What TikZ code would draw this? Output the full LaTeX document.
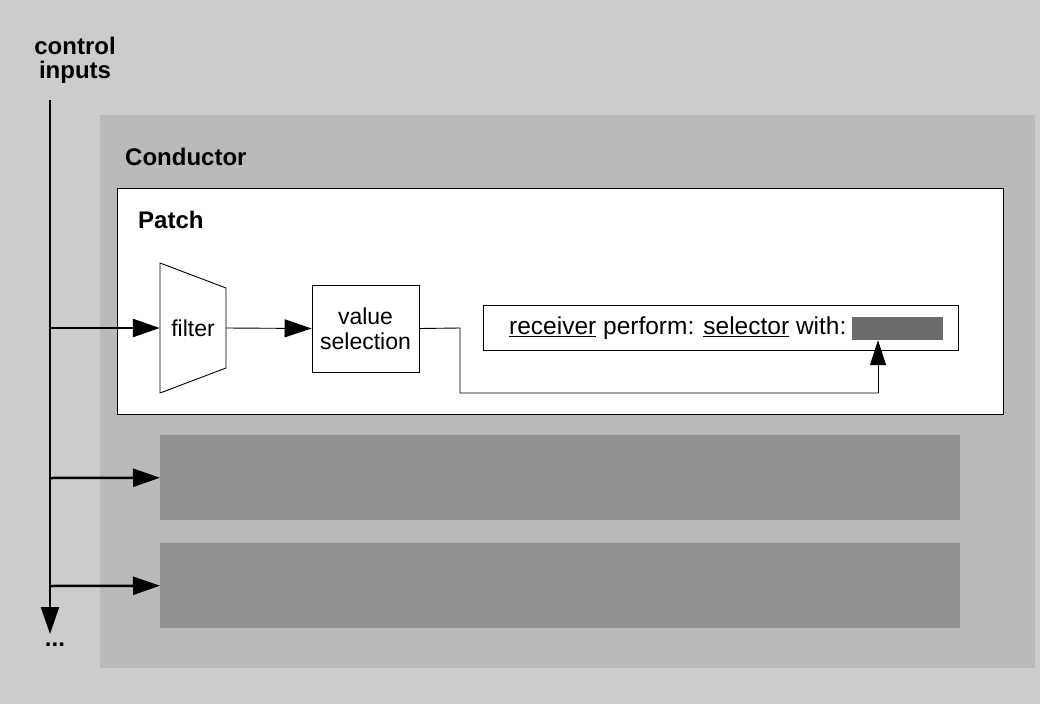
\documentclass[tikz,border=0pt]{standalone}
\usepackage{fontspec}
\setmainfont{Liberation Sans}
\usetikzlibrary{arrows.meta}
\definecolor{bgc}{gray}{0.80}
\definecolor{condc}{gray}{0.73}
\definecolor{rowc}{gray}{0.57}
\definecolor{argc}{gray}{0.42}
\begin{document}
\begin{tikzpicture}[x=1pt,y=-1pt,
  bigtip/.style={-{Triangle[length=27pt,width=18pt]}},
  bigarrow/.style={line width=2.5pt,bigtip},
  thinline/.style={line width=0.9pt},
  box/.style={draw,line width=0.9pt,fill=white},
  lbl/.style={font=\fontsize{23}{25}\selectfont},
  blbl/.style={font=\fontsize{24}{24}\selectfont\bfseries},
  msgfont/.style={font=\fontsize{24.5}{26}\selectfont},
  row/.style={fill=rowc,minimum width=800,minimum height=85,inner sep=0,anchor=north west}]
\useasboundingbox (0,0) rectangle (1040,704);
\fill[bgc] (0,0) rectangle (1040,704);
\fill[condc] (100,115) rectangle (1035,668);
% titles
\node[blbl,align=center,inner sep=0] (ctrl) at (75,60) {control\\inputs};
\node[blbl,anchor=west,inner sep=0] (conductor) at (125,157) {Conductor};
% patch
\node[box,minimum width=886,minimum height=226,inner sep=0,anchor=north west] (patch) at (117,188) {};
\node[blbl,anchor=west,inner sep=0] (patchlbl) at (138,220) {Patch};
% filter
\draw[box] (160,263) -- (226,288) -- (226,368) -- (160,393) -- cycle;
\node[lbl,minimum width=66,inner sep=0] (filter) at (193,328) {filter};
% value selection
\node[box,lbl,minimum width=107,minimum height=87,inner sep=0,align=center] (value) at (365.5,328.5) {value\\selection};
% message
\node[box,minimum width=475,minimum height=45,inner sep=0,anchor=north west] (msg) at (483,305) {};
\node[msgfont,anchor=west,inner sep=0] (msgtxt) at (509,328) {\underline{receiver} perform: \underline{selector} with:};
\node[fill=argc,minimum width=91,minimum height=23,inner sep=0] (arg) at (897,328.5) {};
% rows
\node[row] (row1) at (160,435) {};
\node[row] (row2) at (160,543) {};
% control input bus
\coordinate (top) at (50,100);
\coordinate (bot) at (50,634);
\coordinate (b1) at (50,328);
\coordinate (b2) at (50,478);
\coordinate (b3) at (50,586);
\draw[bigarrow] (top) -- (bot);
\node[blbl,inner sep=0] (dots) at (55,645) {...};
\draw[bigarrow] (b1) -- (filter.west);
\draw[bigarrow] (b2) -- (row1.west);
\draw[bigarrow] (b3) -- (row2.west);
% internal connectors
\draw[thinline,bigtip] (filter.east) -- (value.west);
\coordinate (c1) at (460,328);
\coordinate (c2) at (460,393);
\coordinate (c3) at (878,393);
\draw[thinline] (value.east) -- (c1) -- (c2) -- (c3);
\draw[thinline,-{Triangle[length=25pt,width=16pt]}] (c3) -- (arg.south -| c3);
\end{tikzpicture}
\end{document}
